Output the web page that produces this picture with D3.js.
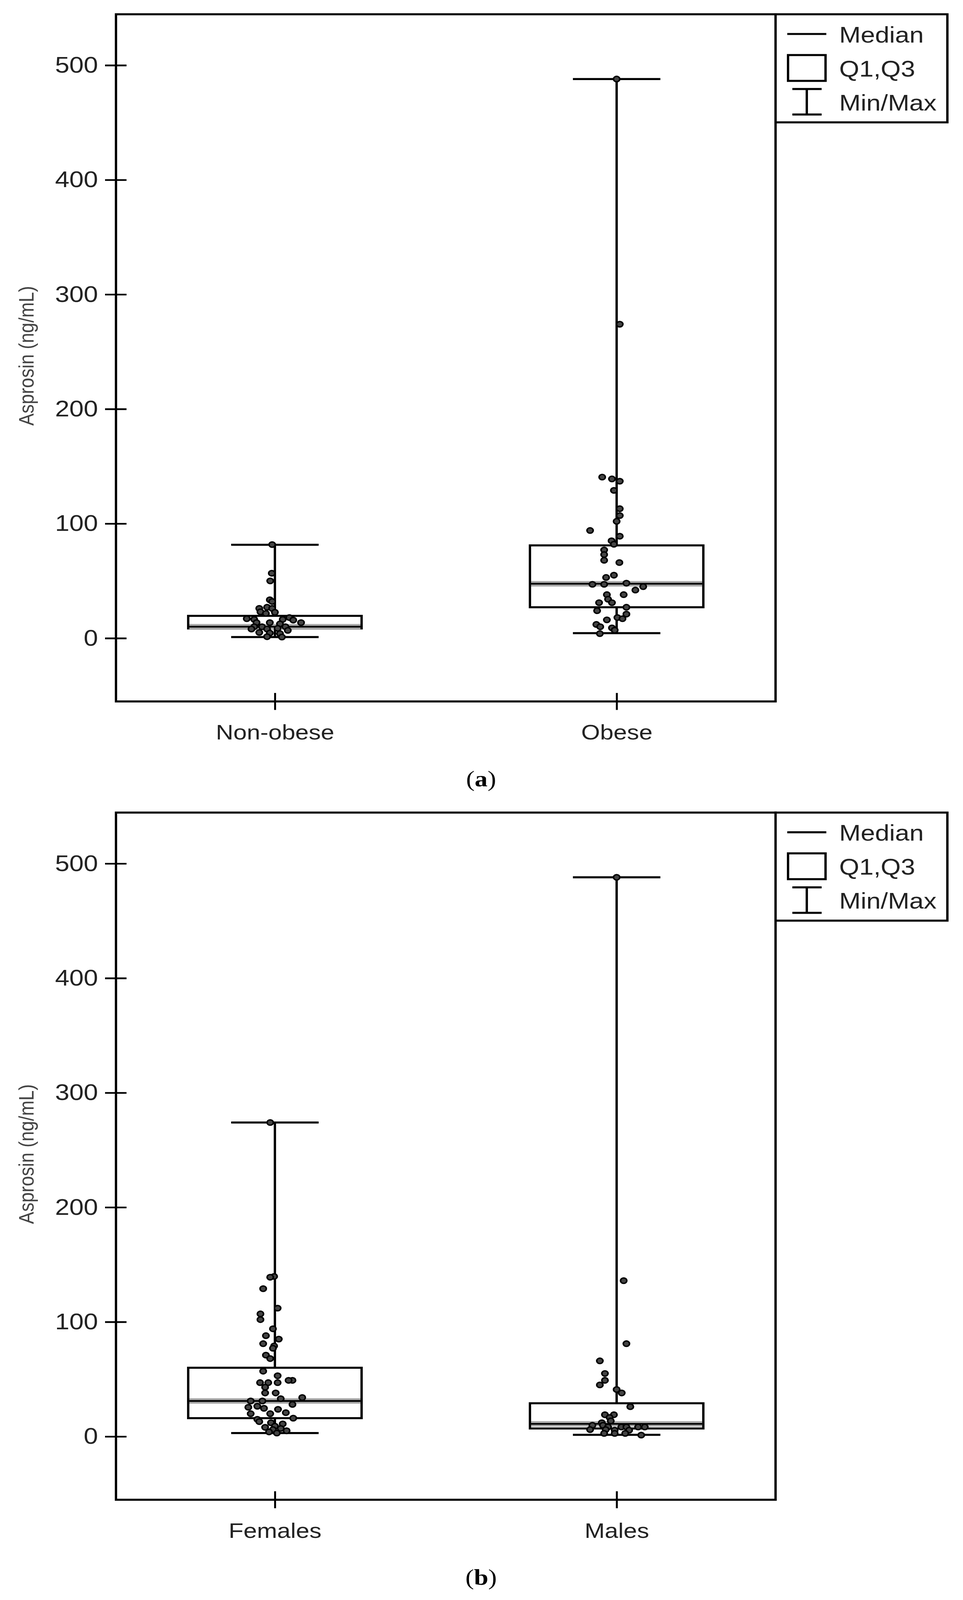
<!DOCTYPE html>
<html lang="en">
<head>
<meta charset="UTF-8">
<title>Asprosin box plots</title>
<script src="https://cdn.jsdelivr.net/npm/d3@7"></script>
<style>
  html, body { margin: 0; padding: 0; background: #fff; overflow: hidden; }
  #chart { display: block; width: 100vw; height: 100vh; }
  svg text { font-family: "Liberation Sans", Arial, sans-serif; }
</style>
</head>
<body>
<svg id="chart" viewBox="0 0 2466 4708" preserveAspectRatio="none"></svg>
<script>
// panel a
const groupsA = ["Non-obese", "Obese"];
const statsA = [
  { min: 1, q1: 8.5, median: 10, q3: 19.5, max: 81.5 },
  { min: 4.4, q1: 27, median: 47.5, q3: 81, max: 488 }
];
const nonObeseVals = [81.7, 56.7, 50, 33.5, 32, 26, 27, 26, 23, 22.6, 21.6, 17, 16.4, 16.4, 18, 15.8, 13.6, 13.6, 13.6, 12.5, 10, 10, 10, 8, 8, 8.6, 6.8, 5, 4.5, 4, 1.3, 1];
const nonObeseJit  = [-7, -8, -12, -13, -7, -40, -20, -7, -37, 0, -23, -72, -53, 20, 37, 47, 67, -47, -13, 13, -53, -33, 27, -60, -20, 7, 33, -40, -13, 13, -20, 18];
const obeseVals = [488, 274, 140.6, 139, 137, 129, 113, 107, 102, 94, 89, 85, 82, 77, 73, 68, 66, 55, 53, 47, 47, 48, 45, 42, 38, 38, 34, 31, 31, 24, 27, 21, 18, 17, 16, 12, 10, 9, 7, 4];
const obeseJit  = [0, 8, -37, -12, 8, -7, 8, 8, 0, -68, 8, -13, -7, -32, -32, -32, 7, -7, -27, -62, -32, 25, 68, 48, 18, -25, -22, -45, -12, -50, 25, 25, 2, 15, -25, -52, -42, -12, -5, -43];

// panel b
const groupsB = ["Females", "Males"];
const statsB = [
  { min: 3, q1: 16, median: 31, q3: 60, max: 274 },
  { min: 1.5, q1: 7, median: 11, q3: 29, max: 488 }
];
const femaleVals = [274, 139.7, 139, 129, 112, 107, 102, 94, 88, 85, 81, 79, 77, 71, 68, 57, 53, 49, 49, 47, 47, 47, 43, 38, 38, 34, 33, 31, 31, 28, 25.5, 26.4, 24.6, 23.7, 20.8, 19.9, 19.9, 16, 15, 13, 12, 11, 9, 8, 7, 6, 5, 4, 3];
const femaleJit  = [-12, -2, -12, -30, 7, -37, -37, -5, -23, 10, -30, -2, -5, -23, -12, -30, 7, 45, 35, -38, -17, 7, -25, -25, 2, 70, 15, -62, -32, 45, -68, -45, -28, 8, 28, -62, -12, 47, -45, -40, -10, 20, 0, -25, 15, -5, 30, -15, 5];
const maleVals = [488, 136, 81, 66, 55, 49, 45, 41, 38, 26, 19, 19, 16.6, 13.6, 12, 9.8, 9.8, 8.3, 8.3, 8.3, 8.3, 8.3, 6, 6, 5.5, 5.5, 2.7, 2.7, 2.7, 1.2];
const maleJit  = [0, 18, 25, -43, -30, -30, -43, 0, 13, 35, -30, -7, -18, -15, -38, -62, -35, -22, 12, 25, 55, 72, -68, -28, -5, 32, -32, -5, 22, 63];

const yTicks = [0, 100, 200, 300, 400, 500];
const legendItems = ["Median", "Q1,Q3", "Min/Max"];

const svg = d3.select("#chart");
const left = 297, right = 1986, plotH = 2022;
const boxHalf = 222, capHalf = 112;

function drawPanel(top, groups, stats, vals, jits, caption) {
  const y = d3.scaleLinear().domain([-55.2, 544.5]).range([top + plotH, top]);
  const x = d3.scalePoint().domain(groups).range([left, right]).padding(0.465);
  const g = svg.append("g");

  // frame
  g.append("rect").attr("x", left).attr("y", top).attr("width", right - left).attr("height", plotH)
    .attr("fill", "none").attr("stroke", "#000").attr("stroke-width", 6);

  // y axis
  const ya = g.append("g").attr("transform", `translate(${left},0)`)
    .call(d3.axisLeft(y).tickValues(yTicks).tickSize(28).tickPadding(18));
  ya.select(".domain").remove();
  ya.selectAll(".tick line").attr("x2", -28).attr("x1", 27).attr("stroke", "#000").attr("stroke-width", 5);
  ya.selectAll(".tick text").attr("font-size", 66).attr("fill", "#222")
    .attr("font-family", "Liberation Sans, Arial, sans-serif");

  // x axis
  const xa = g.append("g").attr("transform", `translate(0,${top + plotH})`)
    .call(d3.axisBottom(x).tickSize(28).tickPadding(40));
  xa.select(".domain").remove();
  xa.selectAll(".tick line").attr("y1", -25).attr("y2", 25).attr("stroke", "#000").attr("stroke-width", 5);
  xa.selectAll(".tick text").attr("font-size", 62).attr("fill", "#222")
    .attr("font-family", "Liberation Sans, Arial, sans-serif");

  g.append("text").attr("transform", `translate(72,${top + 1005}) rotate(-90)`)
    .attr("text-anchor", "middle").attr("dominant-baseline", "middle")
    .attr("font-size", 54).attr("fill", "#444").text("Asprosin (ng/mL)");

  // boxes
  groups.forEach((grp, i) => {
    const s = stats[i], cx = x(grp);
    g.append("line").attr("x1", cx).attr("x2", cx).attr("y1", y(s.max)).attr("y2", y(s.min))
      .attr("stroke", "#000").attr("stroke-width", 6);
    [s.min, s.max].forEach(v => g.append("line").attr("x1", cx - capHalf).attr("x2", cx + capHalf)
      .attr("y1", y(v)).attr("y2", y(v)).attr("stroke", "#000").attr("stroke-width", 6));
    g.append("rect").attr("x", cx - boxHalf).attr("y", y(s.q3)).attr("width", boxHalf * 2)
      .attr("height", y(s.q1) - y(s.q3)).attr("fill", "#fff").attr("stroke", "#000").attr("stroke-width", 6);
    g.append("line").attr("x1", cx - boxHalf + 3).attr("x2", cx + boxHalf - 3)
      .attr("y1", y(s.median)).attr("y2", y(s.median)).attr("stroke", "#a8a8a8").attr("stroke-width", 16);
    g.append("line").attr("x1", cx - boxHalf + 3).attr("x2", cx + boxHalf - 3)
      .attr("y1", y(s.median)).attr("y2", y(s.median)).attr("stroke", "#000").attr("stroke-width", 5);

    g.append("g").selectAll("circle").data(vals[i]).join("circle")
      .attr("cx", (d, k) => cx + jits[i][k])
      .attr("cy", d => y(d)).attr("r", 8)
      .attr("fill", "#444").attr("stroke", "#000").attr("stroke-width", 4);
  });

  // legend
  const lg = g.append("g").attr("transform", `translate(${right},${top})`);
  lg.append("rect").attr("x", 0).attr("y", 0).attr("width", 440).attr("height", 318)
    .attr("fill", "#fff").attr("stroke", "#000").attr("stroke-width", 6);
  lg.append("line").attr("x1", 30).attr("x2", 130).attr("y1", 58).attr("y2", 58).attr("stroke", "#000").attr("stroke-width", 6);
  lg.append("rect").attr("x", 32).attr("y", 120).attr("width", 96).attr("height", 76)
    .attr("fill", "none").attr("stroke", "#000").attr("stroke-width", 6);
  lg.append("line").attr("x1", 80).attr("x2", 80).attr("y1", 220).attr("y2", 295).attr("stroke", "#000").attr("stroke-width", 6);
  [220, 295].forEach(v => lg.append("line").attr("x1", 43).attr("x2", 118).attr("y1", v).attr("y2", v).attr("stroke", "#000").attr("stroke-width", 6));
  lg.selectAll("text.leg").data(legendItems).join("text").attr("class", "leg")
    .attr("x", 163).attr("y", (d, i) => 83 + i * 100)
    .attr("font-size", 66).attr("fill", "#222").text(d => d);

  // caption
  const cap = g.append("text").attr("x", 1232).attr("y", top + plotH + 250).attr("text-anchor", "middle")
    .attr("font-size", 66).attr("fill", "#000").style("font-family", "Liberation Serif, serif");
  cap.append("tspan").text("(");
  cap.append("tspan").attr("font-weight", "bold").text(caption);
  cap.append("tspan").text(")");
}

drawPanel(42, groupsA, statsA, [nonObeseVals, obeseVals], [nonObeseJit, obeseJit], "a");
drawPanel(2391, groupsB, statsB, [femaleVals, maleVals], [femaleJit, maleJit], "b");
</script>
</body>
</html>
